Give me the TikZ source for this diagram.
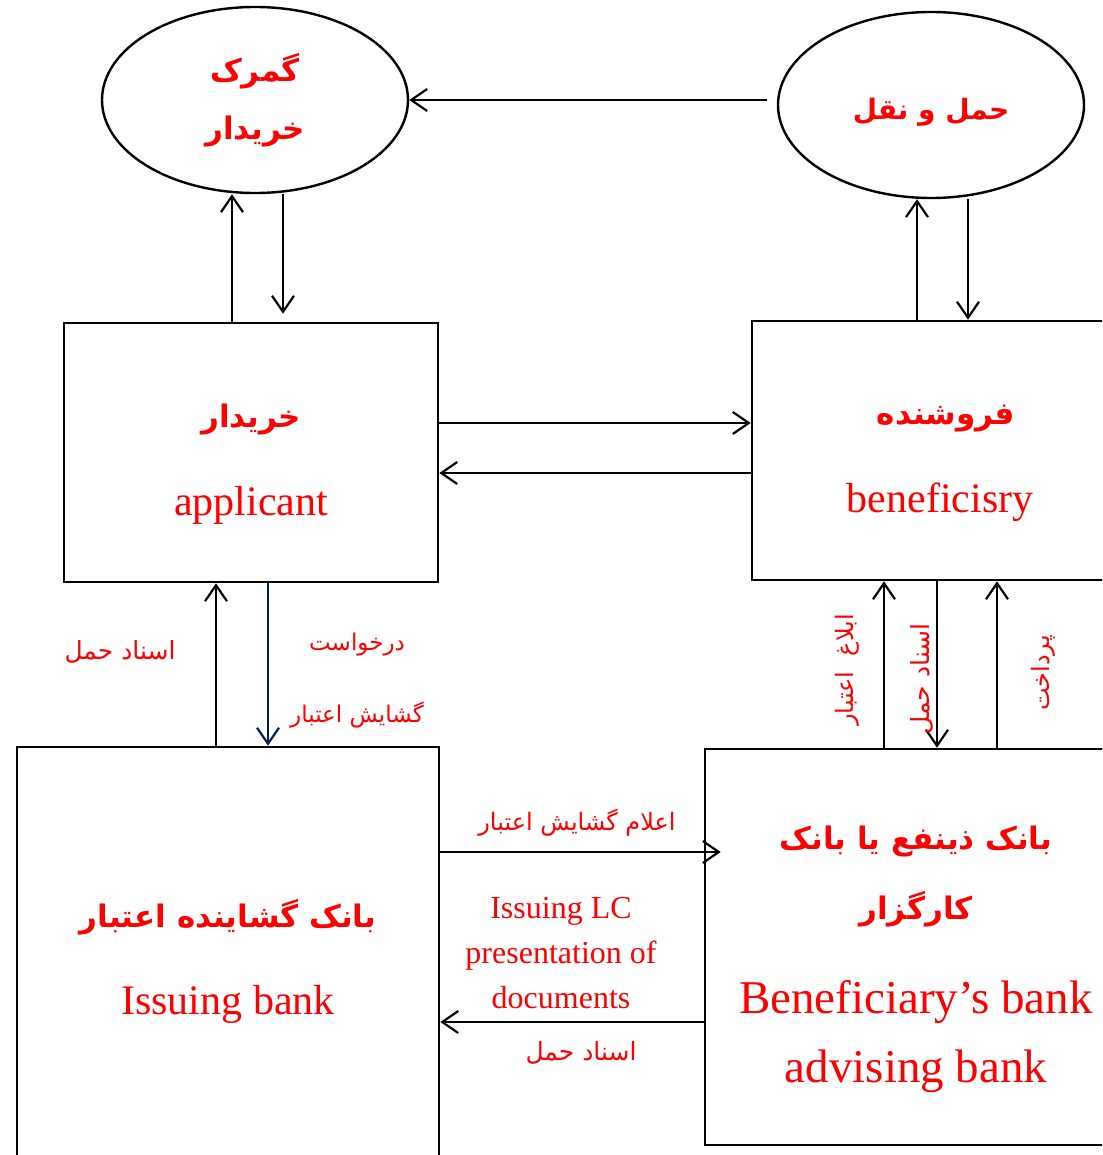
\documentclass[tikz,border=0pt]{standalone}
\usepackage{fontspec}
\setmainfont{Liberation Serif}
\newfontfamily\farsi[Script=Arabic]{DejaVu Sans}
\TeXXeTstate=1
\usetikzlibrary{shapes.geometric,arrows.meta}
\newcommand\fa[1]{\beginR#1\endR}
\newcommand\low[2]{\raisebox{-#1}[\height][\depth]{#2}}
\newcommand\titlefont{\farsi\bfseries\fontsize{31}{36}\selectfont}

\begin{document}
\begin{tikzpicture}[x=1pt,y=-1pt,
  every node/.style={text=red,inner sep=0pt},
  party/.style={draw=black,line width=2.6pt,align=center},
  place/.style={ellipse,draw=black,line width=2.4pt,minimum width=306pt,minimum height=186pt,align=center},
  flow/.style={line width=2.2pt,-{Straight Barb[length=16pt,width=22pt,line width=2.2pt]}},
  note/.style={font=\farsi\fontsize{24}{28}\selectfont,align=center}]
  \clip (0,0) rectangle (1102,1155);
  \fill[white] (0,0) rectangle (1102,1155);
  % customs and transport
  \node[place,font=\fontsize{30}{58}\selectfont] (customs) at (255,100) {{\titlefont\fa{گمرک}}\\{\titlefont\fa{خریدار}}};
  \node[place,font=\farsi\bfseries\fontsize{28}{34}\selectfont] (transport) at (931,105) {\low{7pt}{\fa{حمل و نقل}}};
  % parties
  \node[party,minimum width=374pt,minimum height=259pt,font=\fontsize{42}{85}\selectfont] (buyer) at (251,452.5)
    {\low{10pt}{\titlefont\fa{خریدار}}\\\low{13pt}{applicant}};
  \node[party,minimum width=388pt,minimum height=259pt,font=\fontsize{42}{85}\selectfont] (seller) at (946,450.5)
    {\low{11pt}{\titlefont\fa{فروشنده}}\\\low{14pt}{\hspace*{-12pt}beneficisry}};
  % banks
  \node[party,minimum width=422pt,minimum height=420pt,font=\fontsize{42}{85}\selectfont] (issuer) at (228,957)
    {\low{3pt}{\titlefont\fa{بانک گشاینده اعتبار}}\\\low{5pt}{Issuing bank}};
  \node[party,minimum width=422pt,minimum height=396pt,font=\fontsize{47}{67}\selectfont] (advisor) at (916,947)
    {\low{9pt}{\titlefont\fa{بانک ذینفع یا بانک}}\\[3pt]\low{9pt}{\titlefont\fa{کارگزار}}\\[23pt]\low{13pt}{Beneficiary’s bank}\\\low{15pt}{advising bank}};
  % arrows
  \draw[flow] ([xshift=-10pt]transport.west |- customs.east) -- (customs.east);
  \draw[flow] ([xshift=-19pt]buyer.north) -- ([xshift=-19pt]buyer.north |- customs.south);
  \draw[flow,shorten >=8pt] ([xshift=32pt]buyer.north |- customs.south) -- ([xshift=32pt]buyer.north);
  \draw[flow] ([xshift=-29pt]seller.north) -- ([xshift=-29pt]seller.north |- transport.south);
  \draw[flow] ([xshift=22pt]seller.north |- transport.south) -- ([xshift=22pt]seller.north);
  \draw[flow] ([yshift=29.5pt]buyer.east) -- ([yshift=29.5pt]buyer.east -| seller.west);
  \draw[flow] ([yshift=-20.5pt]buyer.east -| seller.west) -- ([yshift=-20.5pt]buyer.east);
  \draw[flow] ([xshift=-12pt]issuer.north) -- ([xshift=-12pt]issuer.north |- buyer.south);
  \draw[flow,draw={rgb,255:red,0;green,32;blue,96}] ([xshift=40pt]issuer.north |- buyer.south) -- ([xshift=40pt]issuer.north);
  \draw[flow] ([xshift=-32pt]advisor.north) -- ([xshift=-32pt]advisor.north |- seller.south);
  \draw[flow] ([xshift=21pt]advisor.north |- seller.south) -- ([xshift=21pt]advisor.north);
  \draw[flow] ([xshift=81pt]advisor.north) -- ([xshift=81pt]advisor.north |- seller.south);
  \draw[flow] ([yshift=95pt]advisor.west -| issuer.east) -- ([xshift=17pt,yshift=95pt]advisor.west);
  \draw[flow] ([yshift=-75pt]advisor.west) -- ([yshift=-75pt]advisor.west -| issuer.east);
  % labels
  \node[note,font=\farsi\fontsize{25}{28}\selectfont] (docs) at (120,652) {\fa{اسناد حمل}};
  \node[note,font=\farsi\fontsize{23}{72}\selectfont] (request) at (357,681) {\fa{درخواست}\\\fa{گشایش اعتبار}};
  \node[note,rotate=90] (notice) at (847,670) {\fa{ابلاغ\ \ اعتبار}};
  \node[note,font=\farsi\fontsize{25}{28}\selectfont,rotate=90] (docsB) at (922,679) {\fa{اسناد حمل}};
  \node[note,rotate=90] (payment) at (1043,673) {\fa{پرداخت}};
  \node[note] (opening) at (577,823) {\fa{اعلام گشایش اعتبار}};
  \node[align=center,font=\fontsize{32}{45}\selectfont] (lc) at (561,953) {Issuing LC\\presentation of\\documents};
  \node[note,font=\farsi\fontsize{25}{28}\selectfont] (docsC) at (581,1053) {\fa{اسناد حمل}};
\end{tikzpicture}
\end{document}
